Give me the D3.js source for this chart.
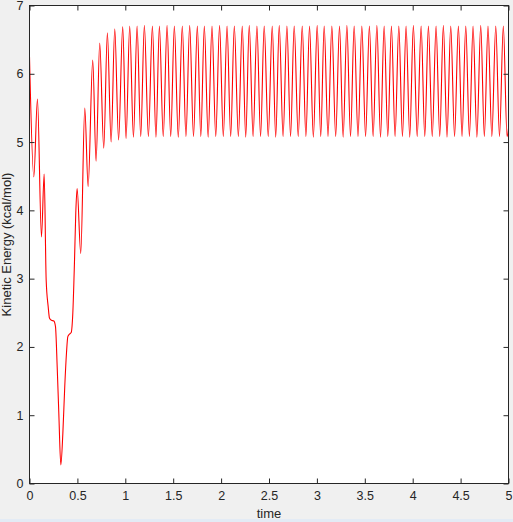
<!DOCTYPE html>
<html>
<head>
<meta charset="utf-8">
<script src="https://cdn.jsdelivr.net/npm/d3@7"></script>
<style>
  html, body { margin: 0; padding: 0; background: #f0f0f0; }
  svg { display: block; }
  text { font-family: "Liberation Sans", Arial, Helvetica, sans-serif; fill: #262626; }
</style>
</head>
<body>
<script>
// ---- data ----
const xTicks = [0, 0.5, 1, 1.5, 2, 2.5, 3, 3.5, 4, 4.5, 5];
const yTicks = [0, 1, 2, 3, 4, 5, 6, 7];
const xLabel = "time";
const yLabel = "Kinetic Energy (kcal/mol)";

// transient start (t, value)
const startTimes  = [0, 0.045, 0.083, 0.125, 0.153, 0.174, 0.195, 0.209, 0.229, 0.254, 0.271, 0.289, 0.306, 0.327, 0.348, 0.368, 0.386, 0.400, 0.420, 0.435, 0.452, 0.469, 0.483, 0.497, 0.535];
const startValues = [6.25, 4.49, 5.63, 3.61, 4.53, 2.98, 2.59, 2.42, 2.39, 2.38, 2.30, 1.71, 1.03, 0.27, 0.73, 1.42, 1.91, 2.15, 2.19, 2.21, 2.49, 3.22, 3.96, 4.32, 3.37];

// oscillation peaks
const peakTimes = [
  0.577, 0.660, 0.733, 0.813, 0.890, 0.973, 1.046, 1.123, 1.199, 1.283,
  1.356, 1.436, 1.512, 1.595, 1.672, 1.752, 1.825, 1.905, 1.984, 2.062,
  2.138, 2.221, 2.294, 2.374, 2.450, 2.534, 2.607, 2.687, 2.763, 2.847,
  2.923, 3.003, 3.076, 3.156, 3.236, 3.313, 3.389, 3.469, 3.548, 3.626,
  3.702, 3.778, 3.855, 3.931, 4.007, 4.088, 4.164, 4.244, 4.320, 4.397,
  4.477, 4.554, 4.630, 4.710, 4.786, 4.867, 4.946];
const peakValues = [
  5.50, 6.20, 6.45, 6.60, 6.66, 6.69, 6.70, 6.70, 6.71, 6.70,
  6.70, 6.71, 6.70, 6.70, 6.71, 6.70, 6.70, 6.70, 6.71, 6.70,
  6.70, 6.70, 6.71, 6.70, 6.70, 6.70, 6.71, 6.70, 6.70, 6.70,
  6.70, 6.71, 6.70, 6.70, 6.70, 6.71, 6.70, 6.70, 6.70, 6.71,
  6.70, 6.70, 6.70, 6.70, 6.71, 6.70, 6.70, 6.70, 6.71, 6.70,
  6.70, 6.70, 6.70, 6.71, 6.70, 6.70, 6.70];

// oscillation troughs
const troughTimes = [
  0.612, 0.695, 0.775, 0.852, 0.930, 1.008, 1.085, 1.161, 1.241, 1.320,
  1.396, 1.474, 1.553, 1.633, 1.712, 1.788, 1.865, 1.944, 2.023, 2.100,
  2.180, 2.257, 2.334, 2.412, 2.492, 2.570, 2.647, 2.725, 2.805, 2.885,
  2.963, 3.040, 3.116, 3.196, 3.274, 3.351, 3.429, 3.508, 3.587, 3.664,
  3.740, 3.816, 3.893, 3.969, 4.047, 4.126, 4.204, 4.282, 4.358, 4.437,
  4.515, 4.592, 4.670, 4.748, 4.826, 4.906, 4.985];
const troughValues = [
  4.35, 4.72, 4.91, 5.00, 5.03, 5.05, 5.07, 5.08, 5.08, 5.07,
  5.08, 5.08, 5.07, 5.08, 5.08, 5.08, 5.07, 5.08, 5.08, 5.08,
  5.08, 5.07, 5.08, 5.08, 5.08, 5.07, 5.08, 5.08, 5.08, 5.08,
  5.07, 5.08, 5.08, 5.08, 5.07, 5.08, 5.08, 5.08, 5.08, 5.07,
  5.08, 5.08, 5.08, 5.07, 5.08, 5.08, 5.08, 5.08, 5.07, 5.08,
  5.08, 5.08, 5.07, 5.08, 5.08, 5.08, 5.08];

const endTimes = [5.0];
const endValues = [5.20];

// ---- build series table ----
const series = [];
function addPairs(ts, vs) { ts.forEach((t, i) => { if (i < vs.length) series.push({t: t, v: vs[i]}); }); }
addPairs(startTimes, startValues);
addPairs(peakTimes, peakValues);
addPairs(troughTimes, troughValues);
addPairs(endTimes, endValues);
series.sort((a, b) => a.t - b.t);

// ---- layout ----
const W = 513, H = 522;
const mL = 29.5, mR = 508.5, mT = 5.5, mB = 483.5;

const svg = d3.select("body").append("svg").attr("width", W).attr("height", H);
svg.append("rect").attr("width", W).attr("height", H).attr("fill", "#f0f0f0");
svg.append("rect").attr("x", 0).attr("y", H - 3).attr("width", W).attr("height", 3).attr("fill", "#e3ebf5");

const x = d3.scaleLinear().domain([0, 5]).range([mL, mR]);
const y = d3.scaleLinear().domain([0, 7]).range([mB, mT]);

svg.append("rect").attr("x", mL).attr("y", mT)
  .attr("width", mR - mL).attr("height", mB - mT).attr("fill", "#ffffff");

svg.append("clipPath").attr("id", "clip").append("rect")
  .attr("x", mL).attr("y", mT).attr("width", mR - mL).attr("height", mB - mT);

const line = d3.line().x(d => x(d.t)).y(d => y(d.v)).curve(d3.curveMonotoneX);
svg.append("path").datum(series)
  .attr("clip-path", "url(#clip)")
  .attr("fill", "none").attr("stroke", "#ff0000").attr("stroke-width", 1.1)
  .attr("stroke-linejoin", "round")
  .attr("d", line);

const fmt = d3.format("~g");
const axisColor = "#262626";

function styleAxis(g, showText) {
  g.select(".domain").remove();
  g.selectAll(".tick line").attr("stroke", axisColor).attr("stroke-width", 1);
  if (!showText) g.selectAll(".tick text").remove();
  g.selectAll(".tick text").attr("fill", axisColor).style("font-size", "12.5px")
    .style("font-family", "\"Liberation Sans\", Arial, sans-serif");
}

svg.append("g").attr("transform", `translate(0,${mB})`)
  .call(d3.axisBottom(x).tickValues(xTicks).tickFormat(fmt).tickSizeInner(-5).tickSizeOuter(0).tickPadding(0))
  .call(g => styleAxis(g, true))
  .call(g => g.selectAll(".tick text").attr("y", 8).attr("dy", "0.71em"));

svg.append("g").attr("transform", `translate(0,${mT})`)
  .call(d3.axisTop(x).tickValues(xTicks).tickSizeInner(-5).tickSizeOuter(0))
  .call(g => styleAxis(g, false));

svg.append("g").attr("transform", `translate(${mL},0)`)
  .call(d3.axisLeft(y).tickValues(yTicks).tickFormat(fmt).tickSizeInner(-5).tickSizeOuter(0).tickPadding(0))
  .call(g => styleAxis(g, true))
  .call(g => g.selectAll(".tick text").attr("x", -6));

svg.append("g").attr("transform", `translate(${mR},0)`)
  .call(d3.axisRight(y).tickValues(yTicks).tickSizeInner(-5).tickSizeOuter(0))
  .call(g => styleAxis(g, false));

// box
svg.append("rect").attr("x", mL).attr("y", mT)
  .attr("width", mR - mL).attr("height", mB - mT)
  .attr("fill", "none").attr("stroke", axisColor).attr("stroke-width", 1);

// axis labels
svg.append("text").attr("x", (mL + mR) / 2).attr("y", 518)
  .attr("text-anchor", "middle").style("font-size", "13px").text(xLabel);

svg.append("text")
  .attr("transform", `translate(11,${(mT + mB) / 2}) rotate(-90)`)
  .attr("text-anchor", "middle").style("font-size", "13px").text(yLabel);
</script>
</body>
</html>
